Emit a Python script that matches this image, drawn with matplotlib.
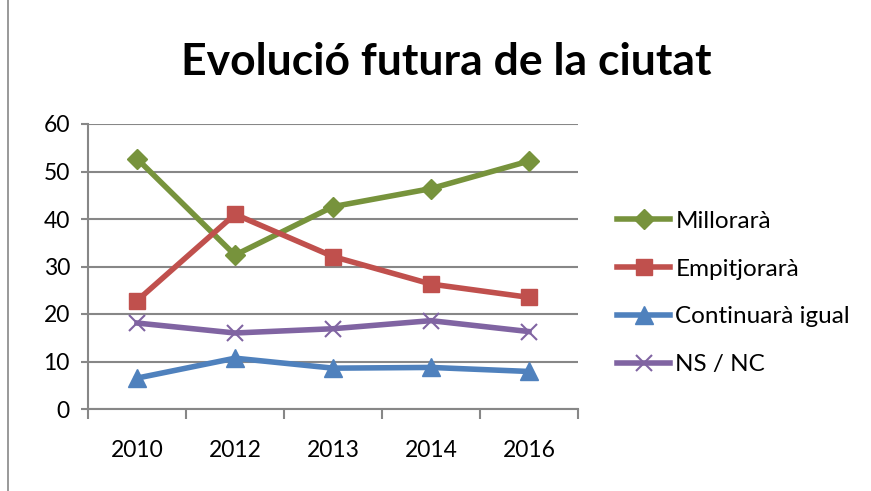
import numpy as np
import matplotlib
matplotlib.use("Agg")
import matplotlib.pyplot as plt
from matplotlib.patches import Rectangle

# data
years = ['2010', '2012', '2013', '2014', '2016']
millorara = [52.7, 32.4, 42.6, 46.4, 52.2]
empitjorara = [22.8, 41.0, 32.1, 26.3, 23.5]
continuara = [6.5, 10.7, 8.6, 8.75, 7.9]
ns_nc = [18.1, 16.0, 16.9, 18.6, 16.3]

plt.rcParams['font.family'] = ['Lato', 'DejaVu Sans']

fig = plt.figure(figsize=(8.71, 4.91), dpi=100)
ax = fig.add_axes([88/871, 1 - 409/491, 490/871, 285/491])

x = np.arange(len(years))
ax.plot(x, millorara, color='#77933C', lw=4, marker='D', ms=10, label='Millorarà')
ax.plot(x, empitjorara, color='#C0504D', lw=4, marker='s', ms=12, label='Empitjorarà')
ax.plot(x, continuara, color='#4F81BD', lw=4, marker='^', ms=13, label='Continuarà igual')
ax.plot(x, ns_nc, color='#8064A2', lw=4, marker='x', ms=12, mew=1.5, label='NS / NC')

ax.set_xlim(-0.5, len(years) - 0.5)
ax.set_ylim(0, 60)
ax.set_yticks(range(0, 61, 10))
ax.grid(True, axis='y', color='#878787', lw=1.5)
ax.set_axisbelow(True)

ax.set_xticks(np.arange(-0.5, len(years), 1))
ax.set_xticklabels([])
ax.set_xticks(x, minor=True)
ax.set_xticklabels(years, minor=True)
ax.tick_params(axis='x', which='major', length=7, width=1.5, color='#878787', direction='out')
ax.tick_params(axis='x', which='minor', length=0, labelsize=16.5, pad=22)
ax.tick_params(axis='y', length=5, width=1.5, color='#878787', labelsize=16.5, pad=8)

for side in ['top', 'right']:
    ax.spines[side].set_visible(False)
for side in ['left', 'bottom']:
    ax.spines[side].set_color('#878787')
    ax.spines[side].set_linewidth(1.5)

fig.text(446/871, 1 - 62/491, 'Evolució futura de la ciutat', ha='center', va='center',
         fontsize=32, fontweight='bold')

ax.legend(loc='center left', bbox_to_anchor=(617/871, 1 - 293/491), bbox_transform=fig.transFigure,
          frameon=False, fontsize=17.5, handlelength=2.2, handletextpad=0.2, labelspacing=1.1,
          borderaxespad=0, borderpad=0)

fig.patches.append(Rectangle((8/871, -0.01), 1, 1.02, transform=fig.transFigure,
                             fill=False, edgecolor='#878787', lw=1.2))

fig.savefig('out.png', dpi=100)
